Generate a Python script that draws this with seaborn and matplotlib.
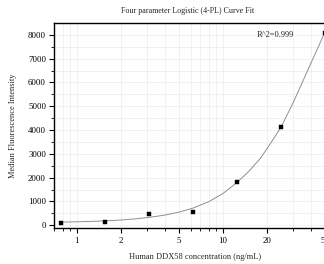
import numpy as np
import pandas as pd
import seaborn as sns
import matplotlib.pyplot as plt
from matplotlib.ticker import FixedLocator, NullFormatter

# standard points (concentration ng/mL, MFI)
conc = [0.78, 1.56, 3.125, 6.25, 12.5, 25, 50]
mfi = [90, 150, 460, 560, 1810, 4120, 8100]

# fitted 4-PL curve
curve_conc = [0.78, 1.0, 1.25, 1.56, 2.0, 2.5, 3.125, 4.0, 5.0, 6.25, 8.0, 10,
              12.5, 15, 18, 21, 25, 30, 35, 40, 45, 50]
curve_mfi = [130, 144, 160, 183, 219, 265, 328, 426, 550, 720, 990, 1330,
             1800, 2255, 2800, 3400, 4120, 5100, 6000, 6800, 7490, 8120]

x_ticks = [1, 2, 5, 10, 20, 50]
x_minor = [0.7, 0.8, 0.9, 3, 4, 6, 7, 8, 9, 30, 40, 60]
y_ticks = [0, 1000, 2000, 3000, 4000, 5000, 6000, 7000, 8000]

points_df = pd.DataFrame({"conc": conc, "mfi": mfi})
curve_df = pd.DataFrame({"conc": curve_conc, "mfi": curve_mfi})

sns.set_style("ticks")
plt.rcParams['font.family'] = ['Liberation Serif', 'DejaVu Serif']

fig = plt.figure(figsize=(3.24, 2.64), dpi=100)
ax = fig.add_axes([0.1676, 0.1352, 0.871, 0.7777])

sns.lineplot(data=curve_df, x="conc", y="mfi", color="#8f8f8f", linewidth=0.7, ax=ax, zorder=3)
sns.scatterplot(data=points_df, x="conc", y="mfi", color="black", marker="s", s=6,
                edgecolor="black", linewidth=0.3, ax=ax, zorder=4, clip_on=False)

ax.set_xscale("log")
ax.set_xlim(0.7, 60)
ax.set_ylim(-130, 8500)

ax.xaxis.set_major_locator(FixedLocator(x_ticks))
ax.xaxis.set_minor_locator(FixedLocator(x_minor))
ax.set_xticklabels([str(t) for t in x_ticks])
ax.xaxis.set_minor_formatter(NullFormatter())
ax.set_yticks(y_ticks)
ax.yaxis.set_minor_locator(FixedLocator(np.arange(500, 8500, 1000)))

ax.grid(True, which="both", color="#ececec", linewidth=0.5, zorder=0)
ax.set_axisbelow(True)

for side in ["left", "bottom", "top"]:
    ax.spines[side].set_color("black")
    ax.spines[side].set_linewidth(1.0)
ax.spines["right"].set_visible(False)

ax.tick_params(axis="both", which="major", length=3.5, width=0.8, labelsize=6.4, pad=2.5, colors="black")
ax.tick_params(axis="both", which="minor", length=2, width=0.6, colors="black")

ax.set_xlabel("Human DDX58 concentration (ng/mL)", fontsize=6, labelpad=6)
ax.set_ylabel("Median Fluorescence Intensity", fontsize=6, labelpad=8)

fig.text(0.58, 0.958, "Four parameter Logistic (4-PL) Curve Fit", ha="center", va="center", fontsize=5.8)
ax.text(257 / 324, 1 - 35 / 264, "R^2=0.999", transform=fig.transFigure, ha="left", va="center", fontsize=6)

fig.savefig("out.png", dpi=100)
